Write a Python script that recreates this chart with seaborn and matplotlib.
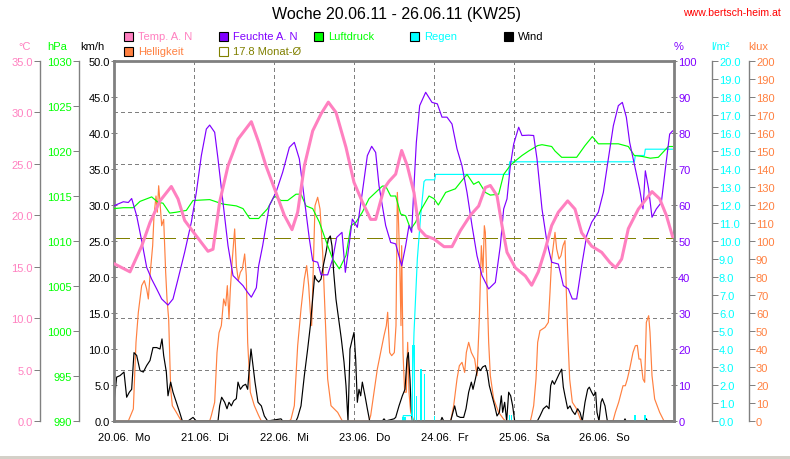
import matplotlib
matplotlib.use("Agg")
import matplotlib.pyplot as plt
import seaborn as sns
from matplotlib.patches import Rectangle

# ---- data (hours since 20.06.11 00:00) ----
day_labels = ["20.06.  Mo", "21.06.  Di", "22.06.  Mi", "23.06.  Do",
              "24.06.  Fr", "25.06.  Sa", "26.06.  So"]
month_avg = 17.8

temp_h = [0, 4.8, 8.3, 10.8, 13.8, 17.2, 19.2, 21.2, 24.2, 28.2, 29.7, 31.7, 34.2, 37.2, 41.2, 43.4,
          45.6, 48.6, 51.1, 53.4, 55.1, 57.1, 59.6, 62.1, 64.3, 66.6, 69.6, 72.0, 74.5, 77.0, 78.5,
          81.0, 82.5, 84.5, 85.5, 86.3, 88.0, 90.0, 91.5, 93.5, 96.0, 99.0, 101.4, 103.9, 106.9, 109.4,
          111.4, 112.9, 114.9, 116.4, 117.9, 120.4, 123.4, 125.3, 127.3, 129.3, 131.3, 133.3, 136.1,
          138.3, 140.3, 143.3, 146.3, 148.8, 150.5, 152.3, 154.3, 157.3, 159.7, 161.4, 163.7, 165.7,
          167.6]
temp_c = [15.3, 14.5, 17.0, 19.3, 21.4, 22.8, 21.6, 19.5, 18.2, 16.5, 16.7, 21.3, 24.8, 27.4, 29.1, 27.1,
          24.8, 22.2, 20.0, 18.6, 20.3, 24.8, 28.2, 29.85, 31.0, 30.0, 26.6, 23.2, 21.3, 19.6, 19.6,
          22.6, 23.3, 24.0, 25.3, 26.3, 24.8, 22.2, 18.7, 18.0, 17.7, 16.95, 16.95, 18.5, 20.0, 20.9,
          22.7, 22.9, 21.9, 19.0, 16.4, 14.9, 14.1, 13.2, 14.5, 16.6, 19.0, 20.3, 21.4,
          20.6, 18.3, 17.0, 16.4, 15.4, 14.9, 15.75, 18.7, 20.6, 21.6, 22.3, 21.6, 20.0,
          17.9]

hum_h = [0, 2.8, 4.3, 5.3, 6.8, 8.3, 9.8, 11.3, 12.8, 14.3, 16.2, 17.7, 19.2, 21.2, 23.2, 24.7, 26.2,
         27.7, 28.7, 30.2, 31.2, 32.7, 34.2, 35.7, 37.2, 38.7, 40.1, 41.2, 42.7, 43.4, 44.6, 46.6, 48.6,
         50.6, 52.6, 54.1, 55.6, 57.1, 58.6, 59.6, 61.1, 62.1, 64.1, 65.6, 66.8, 68.4, 69.4, 70.5, 71.5,
         73.0, 74.5, 76.0, 77.3, 78.5, 79.5, 80.5, 81.5, 83.0, 84.5, 86.3, 87.5, 88.5, 89.3, 90.0, 90.7,
         91.7, 93.5, 95.4, 97.0, 98.4, 99.9, 101.4, 102.9, 104.4, 105.9, 107.4, 108.9, 110.4, 112.4,
         114.4, 115.9, 116.9, 117.9, 118.9, 119.9, 121.4, 122.4, 124.4, 125.9, 126.9, 128.4, 129.9,
         131.3, 133.3, 134.8, 136.3, 137.5, 138.8, 140.3, 141.8, 143.3, 145.3, 146.8, 148.3, 149.8,
         151.3, 152.5, 153.7, 154.7, 156.2, 157.7, 158.7, 159.4, 160.4, 161.4, 162.7, 164.2, 165.4,
         166.7, 167.6]
hum_pct = [59.8, 60.9, 60.7, 61.8, 57.0, 50.1, 42.7, 39.4, 36.7, 33.9, 32.2, 33.9, 39.4, 46.9, 55.2, 63.5, 73.7,
           81.1, 82.2, 80.2, 72.8, 60.7, 48.7, 40.4, 39.0, 37.6, 35.7, 34.4, 37.0, 43.1, 48.7, 59.8, 63.5,
           69.1, 76.0, 77.4, 72.8, 61.7, 50.6, 44.5, 44.1, 40.6, 40.6, 45.0, 51.0, 52.4, 41.3, 48.7, 56.1,
           53.8, 63.5, 73.7, 76.3, 74.6, 65.4, 59.8, 54.3, 49.6, 49.2, 43.1, 48.7, 54.3, 52.4, 65.4, 77.4,
           87.6, 91.3, 88.5, 88.1, 84.4, 84.4, 82.5, 75.6, 70.9, 63.5, 54.3, 45.9, 40.4, 36.7,
           38.5, 48.7, 58.9, 61.7, 70.9, 76.9, 81.6, 79.3, 79.4, 79.3, 72.8, 58.9, 49.6,
           44.1, 43.6, 37.6, 36.7, 33.9, 33.9, 43.1, 51.5, 55.2, 58.0, 63.5, 72.8, 82.0,
           87.6, 88.5, 84.4, 77.4, 70.9, 64.4, 58.9, 69.5, 64.4, 56.6, 58.9, 60.7, 70.0,
           79.7, 80.6]

pres_h = [0, 2.8, 5.8, 7.8, 11.3, 13.2, 14.7, 16.7, 18.7, 21.7, 23.7, 28.7, 32.7, 36.7, 38.7, 40.7, 43.4,
          44.1, 46.1, 48.1, 50.1, 52.1, 54.6, 56.1, 57.6, 59.6, 61.6, 63.6, 65.6, 67.6, 69.6, 71.1, 72.6,
          74.5, 76.5, 78.5, 80.5, 81.5, 83.0, 84.5, 86.0, 87.5, 89.0, 90.5, 92.0, 94.5, 96.0, 97.3, 99.5,
          102.4, 103.9, 105.9, 107.9, 109.4, 111.4, 112.9, 115.4, 116.9, 118.9, 120.4, 122.4, 124.4,
          127.1, 128.4, 131.3, 132.3, 134.3, 138.8, 141.3, 143.5, 145.3, 151.3, 154.3, 156.1, 158.4,
          160.9, 163.3, 164.8, 166.3, 167.6]
pres_hpa = [1013.6, 1013.7, 1013.7, 1014.4, 1014.9, 1014.3, 1014.2, 1013.1, 1013.2, 1013.4, 1014.5, 1014.6,
            1014.1, 1013.9, 1013.6, 1012.5, 1012.5, 1012.8, 1013.6, 1015.0, 1014.5, 1014.5, 1015.2, 1015.2,
            1013.9, 1013.6, 1012.1, 1010.0, 1008.0, 1006.9, 1008.4, 1011.7, 1012.1, 1013.2, 1014.7, 1015.4,
            1016.1, 1016.1, 1015.0, 1015.0, 1013.0, 1012.8, 1011.3, 1012.1, 1013.4, 1015.0, 1014.7, 1014.0,
            1015.4, 1015.8, 1016.5, 1017.4, 1016.3, 1016.6, 1015.4, 1015.1, 1015.2, 1017.4, 1018.4, 1018.9,
            1019.5, 1020.0, 1020.6, 1020.7, 1020.5, 1020.0, 1019.3, 1019.3, 1020.6, 1021.6, 1020.8, 1020.8,
            1020.5, 1019.5, 1019.4, 1019.2, 1019.3, 1019.9, 1020.5, 1020.5]

rain_cum_h = [86.5, 86.8, 89.3, 90.0, 91.0, 92.0, 93.0, 93.5, 96.2, 96.5, 118.4, 118.7,
              156.1, 156.4, 159.1, 159.4, 167.6]
rain_cum = [0, 0.3, 0.3, 4.9, 9.0, 11.4, 13.3, 13.4, 13.4, 13.7, 13.7, 14.4,
            14.4, 14.75, 14.75, 15.1, 15.1]

rain_bar_h = [86.7, 87.3, 89.6, 90.1, 90.8, 91.9, 92.3, 93.1, 96.2, 118.6, 119.2, 156.3, 159.3]
rain_bar_mm = [0.2, 0.2, 4.2, 4.2, 1.4, 2.9, 2.9, 2.6, 0.3, 0.35, 0.35, 0.35, 0.35]

lux_h = [0, 4.3, 5.8, 6.6, 7.3, 8.3, 9.1, 9.8, 10.3, 10.8, 11.6, 12.0, 12.6, 13.0, 13.4, 13.8, 14.3,
         14.9, 15.5, 15.9, 16.4, 17.0, 17.5, 18.7, 20.2,
         28.7, 29.2, 30.2, 30.9, 31.5, 32.2, 32.9, 33.5, 34.0, 34.5, 34.9, 35.5, 36.2, 36.7, 37.3, 37.9,
         38.5, 39.2, 39.7, 40.1, 40.9, 42.1, 43.4, 44.2,
         52.6, 53.1, 54.1, 55.1, 56.1, 57.1, 57.8, 58.4, 58.9, 59.3, 59.8, 60.3, 61.1, 61.8, 62.6, 63.4,
         64.1, 65.1, 67.1, 68.5,
         76.5, 77.0, 78.0, 79.0, 80.0, 81.0, 81.7, 82.1, 82.7, 83.3, 84.1, 84.6, 85.0, 85.3, 85.7, 86.1,
         86.3, 86.7, 87.2, 87.7, 88.1, 88.5, 89.0, 90.0,
         101.0, 101.9, 102.9, 103.6, 104.4, 105.2, 105.7, 106.4, 107.2, 108.2, 108.9, 109.6, 110.2,
         110.7, 111.1, 111.4, 111.9, 112.4, 112.9, 113.9, 115.4, 116.9, 117.5,
         124.9, 125.3, 125.9, 126.6, 127.1, 127.8, 129.3, 130.3, 130.8, 131.3, 131.8, 132.3, 132.8,
         133.5, 134.1, 134.7, 135.3, 135.7, 136.1, 136.7, 137.5, 138.8, 140.1,
         149.7, 150.4, 151.4, 152.7, 153.4, 154.0, 154.7, 155.7, 156.4, 157.0, 157.5, 158.0, 158.7,
         159.2, 159.7, 160.4, 160.8, 161.4, 162.2, 163.7, 165.0, 167.6]
lux_klux = [0, 0, 6.7, 43.7, 60.4, 75.2, 78, 73.3, 67.8, 80.7, 97.4, 114, 125, 116, 130.7, 121.5, 108.5,
            112, 82.6, 67.8, 56.7, 17.8, 8.5, 4.8, 0,
            0, 3, 10.4, 38, 49, 53, 67.8, 64, 75.2, 56.7, 73.3, 90, 106.7, 86.3, 78, 82.6,
            84.4, 92.8, 80.7, 43.7, 16, 8.5, 3, 0,
            0, 1, 8.5, 41.8, 62.2, 78.9, 86.3, 75.2, 60.4, 53, 86.3, 119.6, 124.3, 117.8, 93.7, 56.7,
            23.3, 8.5, 4.8, 0,
            0, 3, 16, 28.9, 38.1, 47.4, 53, 60.4, 38, 36.3, 38, 53, 127, 114, 90, 53,
            97.4, 38, 16, 16, 43.7, 16, 4.8, 0,
            0, 8.5, 23.3, 30.7, 32.6, 27, 38.1, 43.7, 38.1, 34.4, 25.2, 56.7, 97.4,
            82.6, 108.5, 104.8, 73.3, 43.7, 25.2, 12.2, 4.8, 1, 0,
            0, 3, 8.5, 23.3, 43.7, 50.2, 52, 54.8, 71.5, 90, 97.4, 104.8, 95.6,
            90, 91.9, 97.4, 100.2, 71.5, 49.3, 23.3, 10.4, 6.7, 0,
            0, 4.8, 10.4, 19.6, 19.6, 23.3, 28.9, 38.1, 41.8, 42, 34.4, 34.4, 23.3,
            21.5, 54.8, 58.5, 49.3, 25.2, 12.2, 4.8, 0, 0]

wind_h = [0, 0.8, 1.8, 3.0, 3.8, 4.6, 5.3, 6.0, 6.8, 7.8, 8.8, 9.8, 10.8, 11.7, 12.8, 13.8, 14.4, 14.9,
          15.7, 16.2, 17.0, 17.7, 18.7, 19.7, 20.5, 22.2, 23.7, 24.7, 31.2, 31.7, 32.3, 33.2, 33.9, 34.5,
          35.2, 35.9, 36.7, 37.2, 37.9, 38.7, 39.5, 40.1, 40.5, 41.1, 41.7, 42.3, 43.2, 44.2, 45.1, 46.1,
          50.1, 50.6, 54.6, 55.1, 56.1, 57.1, 58.1, 58.9, 59.6, 60.2, 60.6, 61.4, 62.1, 62.8, 63.6, 64.3,
          64.9, 65.4, 65.9, 66.6, 67.4, 68.2, 69.0, 69.6, 70.2, 70.8, 71.5, 72.0, 72.5, 73.0, 73.5, 74.0,
          74.5, 75.3, 76.0, 76.7, 80.5, 81.0, 81.5, 84.0, 84.5, 85.5, 86.5, 87.3, 87.9, 88.3, 88.8, 89.1,
          89.5, 98.0, 98.4, 98.9, 101.0, 101.4, 102.2, 102.9, 103.9, 104.9, 105.6, 106.4, 107.2, 107.7,
          108.4, 109.2, 109.9, 110.6, 111.4, 112.0, 112.6, 113.4, 114.2, 114.9, 115.6, 116.2, 116.6,
          117.2, 117.8, 118.4, 119.0, 119.6, 120.2, 127.0, 127.8, 128.8, 129.8, 130.5, 131.0, 131.5,
          132.1, 132.8, 133.5, 134.3, 134.8, 135.3, 136.1, 136.8, 137.5, 138.3, 139.1, 139.8, 140.5,
          141.3, 142.1, 142.6, 143.3, 143.9, 144.5, 144.9, 145.5, 146.1, 146.5, 147.3, 148.0, 153.0,
          153.3, 153.6, 159.4, 159.7, 160.0, 167.6]
wind_kmh = [2.6, 6.1, 6.3, 6.8, 3.3, 4.0, 4.4, 9.5, 9.1, 7.0, 6.8, 7.7, 8.4, 10.2, 10.2, 10.0, 11.4, 9.1,
            6.8, 3.5, 5.4, 4.0, 2.6, 1.2, 0, 0, 0.5, 0, 0, 2.1, 3.3, 2.6, 1.7, 2.6,
            2.1, 2.8, 3.1, 5.4, 4.4, 4.9, 5.1, 4.4, 6.8, 10.0, 7.7, 5.4, 2.6, 2.1, 0.7, 0,
            0.3, 0, 0, 0.5, 2.1, 6.3, 10.0, 13.2, 16.9, 20.2, 19.7, 19.3, 19.7, 21.6, 23.4, 25.3,
            25.7, 24.3, 20.7, 16.9, 14.2, 11.4, 8.2, 4.9, 0, 10.0, 11.4, 12.3, 8.6, 2.6, 4.4, 3.5,
            5.4, 3.5, 1.7, 0, 0, 0.3, 0, 0.3, 0.5, 2.1, 3.5, 4.4, 8.6, 9.5, 5.8, 2.1,
            0, 0, 0.5, 0, 0, 0.7, 2.1, 0.7, 0.5, 0.5, 1.7, 4.0, 5.4, 4.4,
            5.8, 7.5, 7.0, 7.5, 7.7, 6.8, 4.9, 3.5, 2.1, 0.7, 1.2, 3.5, 1.2,
            2.6, 0, 4.0, 3.5, 2.1, 0, 0, 0.7, 1.7, 2.1, 1.7, 4.9, 5.6,
            5.1, 5.8, 6.5, 7.2, 4.7, 3.5, 1.7, 2.1, 1.4, 0.9, 1.7, 1.2, 0,
            2.6, 4.4, 4.7, 4.0, 3.5, 4.0, 1.2, 0, 2.6, 3.1, 2.1, 0, 0,
            0.3, 0, 0, 0.3, 0, 0]

# ---- colours / layout ----
GREY = '#808080'
C_TEMP, C_HUM, C_PRES = '#FF80C0', '#8000FF', '#00FF00'
C_RAIN, C_LUX, C_WIND, C_AVG = '#00FFFF', '#FF8040', '#000000', '#808000'

W, H = 790, 460
PL, PR, PT, PB = 114, 674, 62, 422
fs = 8
THIN = 0.72  # one pixel at 100 dpi

sns.set_theme(style="white")
plt.rcParams['font.family'] = ['Liberation Sans', 'DejaVu Sans']


def pos(px):
    return (px - PL) / (PR - PL)


def style_y(a, side, where, ticks, labels, color, lw=1.0, direction='out'):
    for s in a.spines.values():
        s.set_visible(False)
    sp = a.spines[side]
    sp.set_visible(True); sp.set_position(('axes', where)); sp.set_color(GREY); sp.set_linewidth(lw)
    if side == 'left':
        a.yaxis.tick_left()
    else:
        a.yaxis.tick_right()
    a.set_yticks(ticks, labels)
    a.tick_params(axis='y', colors=GREY, labelcolor=color, length=4, width=THIN, pad=1,
                  labelsize=fs, direction=direction)


def line(a, x, y, color, lw=0.85):
    sns.lineplot(x=x, y=y, ax=a, color=color, linewidth=lw, sort=False, estimator=None)


fig = plt.figure(figsize=(W / 100, H / 100), dpi=100)
ax = fig.add_axes([PL / W, 1 - PB / H, (PR - PL) / W, (PB - PT) / H])
ax.set_xlim(0, 168)

# temperature axis (main): grid + month mean
ax.set_ylim(0, 35)
style_y(ax, 'left', pos(40), list(range(0, 36, 5)), [f"{v:.1f}" for v in range(0, 36, 5)], C_TEMP)
ax.set_xticks(range(0, 169, 24))
ax.tick_params(axis='x', colors=GREY, length=4, width=THIN, direction='out', labelbottom=False)
ax.grid(True, color=GREY, linestyle=(0, (3, 3)), linewidth=THIN, antialiased=False)
ax.axhline(month_avg, color=C_AVG, linestyle=(0, (16, 8)), linewidth=THIN, antialiased=False)
for i, lab in enumerate(day_labels):
    ax.text(i * 24 + 3.1, -0.045, lab, transform=ax.get_xaxis_transform(),
            ha='center', va='center', fontsize=fs, color='black')

# brightness
ax_l = ax.twinx()
ax_l.set_ylim(0, 200)
style_y(ax_l, 'right', pos(749), list(range(0, 201, 10)), [str(v) for v in range(0, 201, 10)], C_LUX)
line(ax_l, lux_h, lux_klux, C_LUX)

# wind (km/h) on the frame
ax_w = ax.twinx()
ax_w.set_ylim(0, 50)
style_y(ax_w, 'left', 0, list(range(0, 51, 5)), [f"{v:.1f}" for v in range(0, 51, 5)], 'black',
        lw=2, direction='inout')
line(ax_w, wind_h, wind_kmh, C_WIND)

# rain
ax_r = ax.twinx()
ax_r.set_ylim(0, 20)
style_y(ax_r, 'right', pos(712), list(range(0, 21)), [f"{v:.1f}" for v in range(0, 21)], C_RAIN)
ax_r.bar(rain_bar_h, rain_bar_mm, width=0.45, color=C_RAIN, linewidth=0)
line(ax_r, rain_cum_h, rain_cum, C_RAIN)

# pressure
ax_p = ax.twinx()
ax_p.set_ylim(990, 1030)
style_y(ax_p, 'left', pos(79), list(range(990, 1031, 5)), [str(v) for v in range(990, 1031, 5)], C_PRES)
line(ax_p, pres_h, pres_hpa, C_PRES)

# humidity on the right frame
ax_h = ax.twinx()
ax_h.set_ylim(0, 100)
style_y(ax_h, 'right', 1, list(range(0, 101, 10)), [str(v) for v in range(0, 101, 10)], C_HUM,
        lw=2, direction='inout')
line(ax_h, hum_h, hum_pct, C_HUM)

# temperature line on top, this axes also carries the top/bottom frame
ax_t = ax.twinx()
ax_t.set_ylim(0, 35)
ax_t.set_yticks([])
for side in ('left', 'right'):
    ax_t.spines[side].set_visible(False)
for side in ('top', 'bottom'):
    ax_t.spines[side].set_visible(True)
    ax_t.spines[side].set_color(GREY)
    ax_t.spines[side].set_linewidth(2)
for side in ('top', 'bottom', 'left', 'right'):
    ax.spines[side].set_visible(side == 'left')
line(ax_t, temp_h, temp_c, C_TEMP, lw=2.2)

for a in (ax, ax_l, ax_w, ax_r, ax_p, ax_h, ax_t):
    a.set_xlim(0, 168)
    a.set_ylabel('')
    a.set_xlabel('')

# ---- texts around the plot ----
def ftext(x, y, s, color, size=fs, ha='center'):
    fig.text(x / W, 1 - y / H, s, color=color, fontsize=size, ha=ha, va='center')

ftext(396, 15, "Woche 20.06.11 - 26.06.11 (KW25)", 'black', size=11.5)
ftext(781, 13, "www.bertsch-heim.at", '#FF0000', size=7.6, ha='right')

for x, s, c in [(25, "°C", C_TEMP), (57, "hPa", C_PRES), (92, "km/h", 'black'),
                (679, "%", C_HUM), (721, "l/m²", C_RAIN), (758, "klux", C_LUX)]:
    ftext(x, 47, s, c)

legend = [(124, 37.5, "Temp. A. N", C_TEMP, True), (219, 37.5, "Feuchte A. N", C_HUM, True),
          (314, 37.5, "Luftdruck", C_PRES, True), (410, 37.5, "Regen", C_RAIN, True),
          (504, 37.5, "Wind", C_WIND, True), (124, 52.5, "Helligkeit", C_LUX, True),
          (219, 52.5, f"{month_avg:.1f} Monat-Ø", C_AVG, False)]
for x, y, s, c, filled in legend:
    fig.add_artist(Rectangle((x / W, 1 - (y + 4.5) / H), 9 / W, 9 / H, transform=fig.transFigure,
                             facecolor=c if filled else 'none', edgecolor='black' if filled else C_AVG,
                             linewidth=0.8))
    ftext(x + 14, y, s, c, ha='left')

fig.add_artist(Rectangle((0, 0), 1, 3.5 / H, transform=fig.transFigure, facecolor='#D4D0C8',
                         edgecolor='none'))

fig.savefig("out.png", dpi=100)
